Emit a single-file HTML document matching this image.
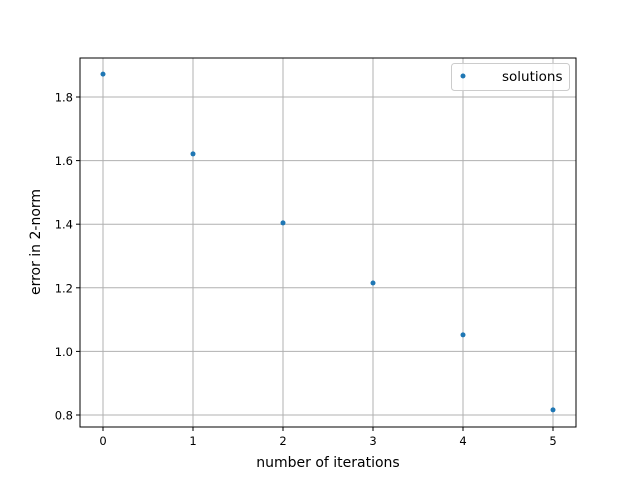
<!DOCTYPE html>
<html><head><meta charset="utf-8"><style>
html,body{margin:0;padding:0;background:#fff;}
svg{display:block;font-family:"DejaVu Sans","Liberation Sans",sans-serif;}
</style></head><body>
<svg id="chart" width="640" height="480" viewBox="0 0 640 480">
<rect width="640" height="480" fill="#fff"/>
<g id="grid"></g>
<g id="ticks"></g>
<g id="points"></g>
<rect x="80" y="58" width="496" height="369" fill="none" stroke="#000" stroke-width="1"/>
<text x="328" y="467" font-size="14" text-anchor="middle">number of iterations</text>
<text transform="translate(40,242) rotate(-90)" font-size="14" text-anchor="middle">error in 2-norm</text>
<g>
<rect x="451.5" y="63.5" width="118" height="27" rx="3" fill="#fff" fill-opacity="0.8" stroke="#ccc"/>
<circle cx="463" cy="76" r="2.5" fill="#1f77b4"/>
<text x="502" y="81" font-size="13.5">solutions</text>
</g>
</svg>
<script>
const iterations = [0, 1, 2, 3, 4, 5];
const errors = [1.872, 1.621, 1.404, 1.215, 1.052, 0.816];
const xTicks = [0, 1, 2, 3, 4, 5];
const yTicks = [0.8, 1.0, 1.2, 1.4, 1.6, 1.8];
const yTickLabels = ["0.8", "1.0", "1.2", "1.4", "1.6", "1.8"];

const NS = "http://www.w3.org/2000/svg";
function xs(v){ return 103 + v * 90; }
function ys(v){ return 415 - (v - 0.8) * 318; }
function mk(tag, attrs, parent){
  const el = document.createElementNS(NS, tag);
  for (const k in attrs) el.setAttribute(k, attrs[k]);
  parent.appendChild(el);
  return el;
}
const grid = document.getElementById('grid');
const ticks = document.getElementById('ticks');
const pts = document.getElementById('points');

xTicks.forEach((t) => {
  const x = xs(t);
  const g = mk('line', {x1:x, x2:x, y1:58, y2:427, stroke:'#b0b0b0', 'stroke-width':1}, grid);
  
  
  mk('line', {x1:x, x2:x, y1:427, y2:431, stroke:'#000', 'stroke-width':1}, ticks);
  const tx = mk('text', {x:x, y:445, 'font-size':11.5, 'text-anchor':'middle'}, ticks);
  tx.textContent = String(t);
  
  
});
yTicks.forEach((t, i) => {
  const y = ys(t);
  const g = mk('line', {x1:80, x2:576, y1:y, y2:y, stroke:'#b0b0b0', 'stroke-width':1}, grid);
  
  
  mk('line', {x1:76, x2:80, y1:y, y2:y, stroke:'#000', 'stroke-width':1}, ticks);
  const tx = mk('text', {x:73, y:y + 4.5, 'font-size':11.5, 'text-anchor':'end'}, ticks);
  tx.textContent = yTickLabels[i];
  
  
});
iterations.forEach((it, i) => {
  const c = mk('circle', {cx:xs(it), cy:ys(errors[i]), r:2.5, fill:'#1f77b4'}, pts);
  
  
});
</script>
</body></html>
